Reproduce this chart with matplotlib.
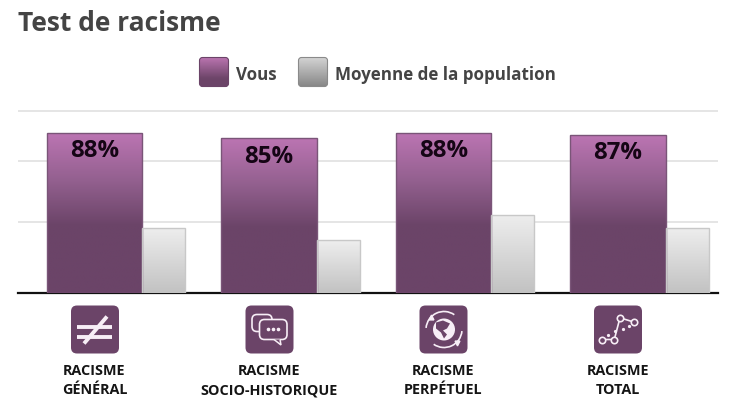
import numpy as np
import matplotlib; matplotlib.use('Agg')
import matplotlib.pyplot as plt
import matplotlib.patches as patches
from matplotlib.colors import to_rgb

plt.rcParams['font.family'] = ['Open Sans', 'DejaVu Sans']

W, H = 731, 414

categories = ['RACISME\nGÉNÉRAL', 'RACISME\nSOCIO-HISTORIQUE', 'RACISME\nPERPÉTUEL', 'RACISME\nTOTAL']
vous = [88, 85, 88, 87]
moyenne = [36, 29, 43, 36]
value_labels = ['88%', '85%', '88%', '87%']
series_names = ['Vous', 'Moyenne de la population']
grid_values = [39, 72.5, 100]

PURPLE = '#6b4468'
GREY_TEXT = '#444444'
PURPLE_STOPS = [(0, '#bc75b3'), (0.30, '#93608f'), (0.58, '#6b4468'), (1, '#6b4468')]
GREY_STOPS = [(0, '#eeeeee'), (1, '#c2c2c2')]
SWATCH_PURPLE = [(0, '#b873ae'), (0.7, '#6d4569'), (1, '#6b4468')]
SWATCH_GREY = [(0, '#d2d2d2'), (1, '#858585')]


def gradient_fill(ax, patch, stops):
    # paint a vertical gradient clipped to the patch
    pos = [s[0] for s in stops]
    cols = np.array([to_rgb(s[1]) for s in stops])
    t = np.linspace(0, 1, 128)
    img = np.stack([np.interp(t, pos, cols[:, i]) for i in range(3)], axis=1)[:, None, :]
    box = patch.get_bbox() if hasattr(patch, 'get_bbox') else patch.get_window_extent()
    y0, y1 = box.y0, box.y1
    if ax.yaxis_inverted():
        ext = (box.x0, box.x1, y1, y0)
    else:
        ext = (box.x0, box.x1, y0, y1)
    im = ax.imshow(img, extent=ext, aspect='auto', zorder=patch.get_zorder() - 0.1,
                   interpolation='bilinear')
    im.set_clip_path(patch)


fig = plt.figure(figsize=(W / 100, H / 100), dpi=100)
fig.patch.set_facecolor('white')

# ------ main chart ------
PX = 1.825   # pixels per percent
base_y = 294.4
ax = fig.add_axes([17.7 / W, (H - base_y) / H, 700 / W, 105 * PX / H])
step = 174.5
x = np.arange(len(categories))
w1, w2 = 95.5 / step, 43 / step

bars1 = ax.bar(x, vous, w1, align='edge', facecolor='none', edgecolor='#7a5578', lw=1, zorder=3)
bars2 = ax.bar(x + w1, moyenne, w2, align='edge', facecolor='none', edgecolor='#c8c8c8', lw=1, zorder=3)
for b in bars1:
    gradient_fill(ax, b, PURPLE_STOPS)
for b in bars2:
    gradient_fill(ax, b, GREY_STOPS)

for xi, v, lab in zip(x, vous, value_labels):
    ax.annotate(lab, (xi + w1 / 2, v), xytext=(0, -12.5), textcoords='offset points',
                ha='center', va='center', fontsize=17.3, fontweight='bold',
                color='#150515', zorder=5)

ax.set_xlim(-29 / step, 671 / step)
ax.set_ylim(0, 105)
ax.set_yticks(grid_values)
ax.set_yticklabels([])
ax.grid(axis='y', color='#e3e3e3', lw=1.3, zorder=0)
ax.set_axisbelow(True)
ax.tick_params(length=0)
ax.set_xticks(x + w1 / 2)
ax.set_xticklabels(categories, fontsize=10.35, fontweight='bold', color='#151515', linespacing=1.5)
ax.tick_params(axis='x', pad=50)
for s in ['top', 'left', 'right']:
    ax.spines[s].set_visible(False)
ax.spines['bottom'].set_color('#111111')
ax.spines['bottom'].set_linewidth(1.6)

# ------ title, legend, icons in pixel coords ------
ov = fig.add_axes([0, 0, 1, 1], zorder=10)
ov.set_xlim(0, W)
ov.set_ylim(H, 0)
ov.axis('off')
ov.patch.set_alpha(0)

ov.text(18, 23.5, 'Test de racisme', fontsize=19, fontweight='bold', color=GREY_TEXT,
        ha='left', va='center')

for sx, name, stops, edge in [(199, series_names[0], SWATCH_PURPLE, '#6b4468'),
                              (298, series_names[1], SWATCH_GREY, '#8a8a8a')]:
    sw = patches.FancyBboxPatch((sx + 0.5, 58.5), 29, 29, boxstyle='round,pad=0,rounding_size=3',
                                facecolor='none', edgecolor=edge, lw=0.8, zorder=3)
    ov.add_patch(sw)
    gradient_fill(ov, sw, stops)
    ov.text(sx + 37, 75, name, fontsize=12.27, fontweight='bold', color=GREY_TEXT,
            ha='left', va='center')


def icon_box(cx):
    ov.add_patch(patches.FancyBboxPatch((cx - 24, 306.5), 48, 48,
                                        boxstyle='round,pad=0,rounding_size=6',
                                        facecolor=PURPLE, edgecolor='none', zorder=2))


WHITE = '#f7eef6'
for cx in [95, 269.5, 443.5, 618]:
    icon_box(cx)

# not-equal sign
ov.plot([77, 112], [328, 328], color=WHITE, lw=2.8, solid_capstyle='butt', zorder=3)
ov.plot([77, 112], [338, 338], color=WHITE, lw=2.8, solid_capstyle='butt', zorder=3)
ov.plot([107, 84], [317.5, 344.5], color=WHITE, lw=2.8, solid_capstyle='butt', zorder=3)

# speech bubbles
ov.add_patch(patches.FancyBboxPatch((252, 315.5), 20, 17, boxstyle='round,pad=0,rounding_size=5',
                                    facecolor='none', edgecolor=WHITE, lw=1.2, zorder=3))
ov.add_patch(patches.FancyBboxPatch((259.5, 320.5), 27.5, 20, boxstyle='round,pad=0,rounding_size=5',
                                    facecolor=PURPLE, edgecolor=WHITE, lw=1.2, zorder=4))
ov.add_patch(patches.Polygon([[274, 340.5], [281, 346], [280, 340.5]], closed=False,
                             facecolor=PURPLE, edgecolor=WHITE, lw=1.1, zorder=5))
ov.plot([268, 273, 278], [330, 330, 330], ls='none', marker='o', ms=1.6, color=WHITE, zorder=5)

# globe with two arrows
ov.add_patch(patches.Circle((444, 330.5), 11, facecolor=WHITE, edgecolor='none', zorder=3))
ov.add_patch(patches.Polygon([[436, 323.5], [443, 321.5], [450, 324.5], [447, 329.5], [443, 331.5],
                              [447, 335.5], [444, 339.5], [441, 333.5], [436, 329.5]],
                             facecolor=PURPLE, edgecolor='none', zorder=4))
ov.add_patch(patches.Arc((444, 330.5), 36, 36, theta1=185, theta2=305, color=WHITE, lw=1.2, zorder=3))
ov.add_patch(patches.Arc((444, 330.5), 36, 36, theta1=5, theta2=125, color=WHITE, lw=1.2, zorder=3))
ov.plot([457], [343.5], marker='v', ms=3.5, color=WHITE, zorder=3)
ov.plot([431], [317.5], marker='^', ms=3.5, color=WHITE, zorder=3)

# line with nodes
ov.plot([602, 614.3, 620, 634.3], [340.5, 340.5, 318.8, 323.2], color=WHITE, lw=1.2, marker='o',
        ms=4.6, mfc=PURPLE, mec=WHITE, mew=1.2, zorder=3)
ov.plot([608, 615, 623, 629], [335.5, 332, 329.5, 327], ls='none', marker='o', ms=1.3, color=WHITE, zorder=3)

fig.savefig('out.png', dpi=100, facecolor='white')
plt.close(fig)
